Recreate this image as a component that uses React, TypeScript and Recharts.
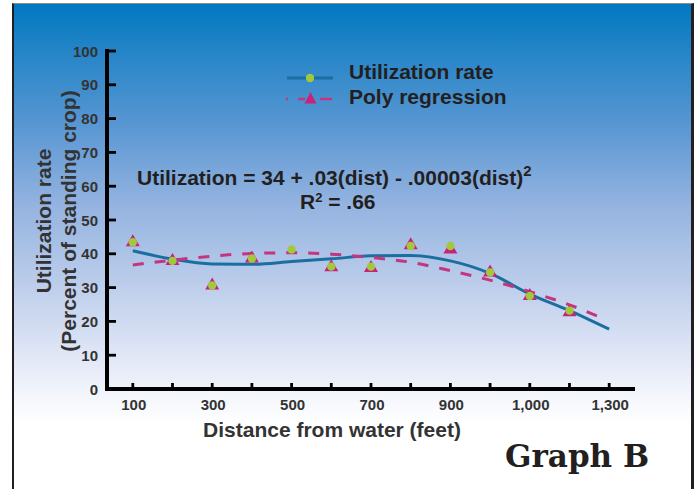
import { ComposedChart, Line, Scatter, XAxis, YAxis } from 'recharts';

// observed points (green dots) and the triangles drawn behind them
const DOT_DIST = [100, 200, 300, 400, 500, 600, 700, 800, 900, 1000, 1100, 1200];
const DOT_VALUES = [43.4, 37.9, 30.6, 38.6, 41.3, 36.2, 36.2, 42.3, 42.3, 34.5, 27.5, 23.2];
const TRI_DIST = [100, 200, 300, 400, 600, 700, 800, 900, 1000, 1100, 1200];
const TRI_VALUES = [43.4, 37.9, 30.6, 38.6, 36.0, 35.8, 42.5, 41.3, 34.5, 27.5, 22.7];

// fitted curves
const UTIL_DIST = [100, 200, 300, 400, 500, 600, 700, 800, 900, 1000, 1100, 1200, 1300];
const UTIL_CURVE = [40.9, 38.4, 37.0, 36.9, 37.7, 38.5, 39.4, 39.5, 37.9, 34.2, 28.1, 23.2, 17.7];
const POLY_DIST = [100, 200, 300, 400, 500, 600, 700, 800, 900, 1000, 1100, 1200, 1270];
const POLY_CURVE = [36.7, 38.1, 39.3, 40.1, 40.3, 39.9, 38.9, 37.5, 35.0, 32.2, 28.8, 24.9, 21.6];

const X_TICKS = [100, 200, 300, 400, 500, 600, 700, 800, 900, 1000, 1100, 1200, 1300];
const X_TICK_LABELS = ['100', '', '300', '', '500', '', '700', '', '900', '', '1,000', '', '1,300'];
const Y_TICKS = [0, 10, 20, 30, 40, 50, 60, 70, 80, 90, 100];

const zip = (xs: number[], ys: number[]) => xs.map((d, i) => ({ dist: d, value: ys[i] }));
const dotData = zip(DOT_DIST, DOT_VALUES);
const triData = zip(TRI_DIST, TRI_VALUES);
const utilData = zip(UTIL_DIST, UTIL_CURVE);
const polyData = zip(POLY_DIST, POLY_CURVE);

const SANS = '"Liberation Sans", Arial, Helvetica, sans-serif';
const PLOT_LEFT = 107;
const PLOT_BOTTOM = 389;
const BLUE = '#1b6f9e';
const MAGENTA = '#c8237b';
const DASH = '#c4357f';
const GREEN = '#a2c83c';
const INK = '#231f20';

const Triangle = (props: any) => {
    const { cx, cy } = props;
    return <polygon points={`${cx},${cy - 8} ${cx + 7},${cy + 4} ${cx - 7},${cy + 4}`} fill={MAGENTA} />;
};

const GreenDot = (props: any) => <circle cx={props.cx} cy={props.cy} r={4.2} fill={GREEN} />;

const XTick = (props: any) => {
    const { x, payload } = props;
    const label = X_TICK_LABELS[X_TICKS.indexOf(payload.value)];
    return (
        <g>
            <line x1={x} x2={x} y1={PLOT_BOTTOM} y2={PLOT_BOTTOM - 6} stroke="#000" strokeWidth={2.8} />
            <text x={x + 1} y={409.5} textAnchor="middle" fontFamily={SANS} fontWeight="bold" fontSize={15} fill="#333">
                {label}
            </text>
        </g>
    );
};

const YTick = (props: any) => {
    const { y, payload } = props;
    return (
        <g>
            {payload.value !== 0 && (
                <line x1={PLOT_LEFT} x2={PLOT_LEFT + 9} y1={y} y2={y} stroke="#000" strokeWidth={2.8} />
            )}
            <text x={98} y={y + 5.5} textAnchor="end" fontFamily={SANS} fontWeight="bold" fontSize={15} fill="#333">
                {payload.value}
            </text>
        </g>
    );
};

const axisLine = { stroke: '#000', strokeWidth: 4, strokeLinecap: 'square' as const };

export default function App() {
    return (
        <div style={{ position: 'absolute', left: 0, top: 0, width: 698, height: 489, overflow: 'hidden', background: '#fff' }}>
            <div
                style={{
                    position: 'absolute',
                    left: 12,
                    top: 3,
                    width: 682,
                    height: 520,
                    boxSizing: 'border-box',
                    borderLeft: `2.5px solid ${INK}`,
                    borderRight: `3px solid ${INK}`,
                    borderTop: '1.5px solid #8c8c8c',
                    background:
                        'linear-gradient(to bottom, #0078c0 0px, #1f83c6 40px, #5896d2 120px, #93b3e0 200px, #bccdeb 280px, #dfe6f6 350px, #f7f9fd 400px, #ffffff 420px)',
                }}
            />
            <div style={{ position: 'absolute', left: 0, top: 0 }}>
                <ComposedChart width={698} height={489} margin={{ top: 51, right: 65, bottom: 70, left: 67 }}>
                    <XAxis
                        type="number"
                        dataKey="dist"
                        domain={[35, 1360]}
                        ticks={X_TICKS}
                        interval={0}
                        allowDataOverflow
                        tickLine={false}
                        axisLine={axisLine}
                        tick={<XTick />}
                        height={30}
                    />
                    <YAxis
                        type="number"
                        domain={[0, 100]}
                        ticks={Y_TICKS}
                        interval={0}
                        tickLine={false}
                        axisLine={axisLine}
                        tick={<YTick />}
                        width={40}
                    />
                    <Line
                        data={utilData}
                        dataKey="value"
                        type="monotone"
                        stroke={BLUE}
                        strokeWidth={3}
                        dot={false}
                        activeDot={false}
                        isAnimationActive={false}
                    />
                    <Line
                        data={polyData}
                        dataKey="value"
                        type="monotone"
                        stroke={DASH}
                        strokeWidth={3}
                        strokeDasharray="11 11"
                        dot={false}
                        activeDot={false}
                        isAnimationActive={false}
                    />
                    <Scatter data={triData} dataKey="value" shape={Triangle} isAnimationActive={false} />
                    <Scatter data={dotData} dataKey="value" shape={GreenDot} isAnimationActive={false} />
                </ComposedChart>
            </div>
            <svg width={698} height={489} style={{ position: 'absolute', left: 0, top: 0, pointerEvents: 'none' }}>
                {/* legend */}
                <line x1={287} x2={333} y1={78} y2={78} stroke={BLUE} strokeWidth={3} />
                <circle cx={310} cy={78} r={4.2} fill={GREEN} />
                <line x1={286} x2={288} y1={99} y2={99} stroke={DASH} strokeWidth={2.5} />
                <line x1={298} x2={305} y1={99} y2={99} stroke={DASH} strokeWidth={2.5} />
                <line x1={320} x2={332} y1={99} y2={99} stroke={DASH} strokeWidth={2.5} />
                <polygon points="310.5,92 316.5,103.5 304.5,103.5" fill={MAGENTA} />
                <text x={349} y={79} fontFamily={SANS} fontWeight="bold" fontSize={21} fill={INK}>
                    Utilization rate
                </text>
                <text x={349} y={104} fontFamily={SANS} fontWeight="bold" fontSize={21} fill={INK}>
                    Poly regression
                </text>

                {/* regression equation */}
                <text x={137} y={185} fontFamily={SANS} fontWeight="bold" fontSize={21} fill={INK}>
                    Utilization = 34 + .03(dist) - .00003(dist)
                    <tspan dy={-9} fontSize={15}>2</tspan>
                </text>
                <text x={300} y={209} fontFamily={SANS} fontWeight="bold" fontSize={21} fill={INK}>
                    R<tspan dy={-7} fontSize={13}>2</tspan>
                    <tspan dy={7}> = .66</tspan>
                </text>

                {/* axis titles */}
                <text transform="translate(51,221) rotate(-90)" textAnchor="middle" fontFamily={SANS} fontWeight="bold" fontSize={21} fill="#333">
                    Utilization rate
                </text>
                <text transform="translate(75.5,221) rotate(-90)" textAnchor="middle" fontFamily={SANS} fontWeight="bold" fontSize={21} fill="#333">
                    (Percent of standing crop)
                </text>
                <text x={332} y={437} textAnchor="middle" fontFamily={SANS} fontWeight="bold" fontSize={21} fill="#333">
                    Distance from water (feet)
                </text>

                <text x={505} y={467} fontFamily='"DejaVu Serif", serif' fontWeight="bold" fontSize={31} fill={INK}>
                    Graph B
                </text>
            </svg>
        </div>
    );
}
